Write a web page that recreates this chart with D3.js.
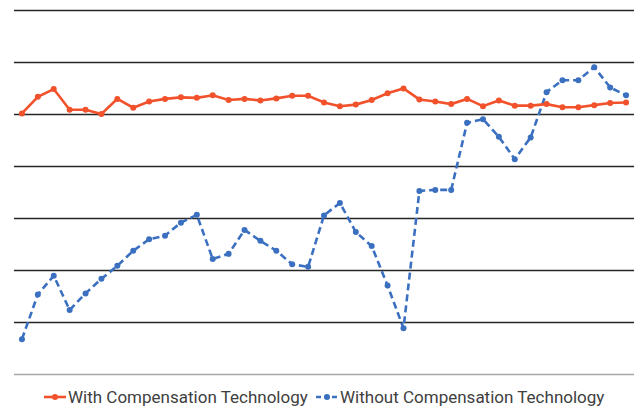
<!DOCTYPE html>
<html>
<head>
<meta charset="utf-8">
<script src="https://cdn.jsdelivr.net/npm/d3@7"></script>
<style>
  body { margin: 0; background: #fff; }
  svg { display: block; font-family: Roboto, "Liberation Sans", sans-serif; }
</style>
</head>
<body>
<div id="chart"></div>
<script>
var width = 640, height = 408;
var margin = {top: 10.5, right: 6, bottom: 33.5, left: 14};

// 39 samples, values (0..70 scale, grid every 10)
var samples = d3.range(1, 40);
var withComp = [50.2, 53.4, 54.9, 50.9, 50.9, 50.1, 53.0, 51.3, 52.5, 53.0,
                53.3, 53.2, 53.7, 52.8, 53.0, 52.7, 53.1, 53.6, 53.6, 52.3,
                51.6, 51.9, 52.8, 54.1, 55.0, 52.9, 52.5, 52.0, 53.0, 51.6,
                52.7, 51.7, 51.7, 52.0, 51.4, 51.4, 51.8, 52.2, 52.3];
var withoutComp = [6.8, 15.4, 19.0, 12.4, 15.6, 18.4, 20.9, 23.8, 26.0, 26.7,
                   29.2, 30.7, 22.2, 23.2, 27.8, 25.7, 23.8, 21.2, 20.7, 30.6,
                   33.0, 27.4, 24.7, 17.1, 8.9, 35.3, 35.5, 35.5, 48.4, 49.1,
                   45.7, 41.4, 45.6, 54.3, 56.6, 56.6, 59.1, 55.2, 53.7];
var yTicks = [10, 20, 30, 40, 50, 60, 70];
var seriesNames = ["With Compensation Technology", "Without Compensation Technology"];

var svg = d3.select("#chart").append("svg")
    .attr("width", width)
    .attr("height", height);

var x = d3.scaleBand()
    .domain(samples)
    .range([margin.left, width - margin.right]);

var y = d3.scaleLinear()
    .domain([0, 70])
    .range([height - margin.bottom, margin.top]);

// gridlines
svg.append("g")
  .selectAll("line")
  .data(yTicks)
  .enter().append("line")
    .attr("x1", margin.left)
    .attr("x2", width - margin.right)
    .attr("y1", function(d) { return y(d); })
    .attr("y2", function(d) { return y(d); })
    .attr("stroke", "#262626")
    .attr("stroke-width", 1.3);

// x axis baseline
svg.append("line")
    .attr("x1", margin.left)
    .attr("x2", width - margin.right)
    .attr("y1", y(0))
    .attr("y2", y(0))
    .attr("stroke", "#a6a6a6")
    .attr("stroke-width", 1.5);

var cx = function(d, i) { return x(samples[i]) + x.bandwidth() / 2; };

var series = [
  {name: seriesNames[0], values: withComp, color: "#f1522c", dash: null},
  {name: seriesNames[1], values: withoutComp, color: "#3b70c0", dash: "7,4"}
];

var line = d3.line()
    .x(cx)
    .y(function(d) { return y(d); });

// draw "without" first so the red line sits on top
series.slice().reverse().forEach(function(s) {
  svg.append("path")
      .datum(s.values)
      .attr("fill", "none")
      .attr("stroke", s.color)
      .attr("stroke-width", 2.6)
      .attr("stroke-dasharray", s.dash)
      .attr("d", line);

  svg.append("g")
    .selectAll("circle")
    .data(s.values)
    .enter().append("circle")
      .attr("cx", cx)
      .attr("cy", function(d) { return y(d); })
      .attr("r", 3)
      .attr("fill", s.color);
});

// legend
var legendY = 397;
var legendX = [44, 316];
var legend = svg.selectAll(".legend")
  .data(series)
  .enter().append("g")
    .attr("class", "legend")
    .attr("transform", function(d, i) { return "translate(" + legendX[i] + "," + legendY + ")"; });

legend.append("line")
    .attr("x1", 0)
    .attr("x2", 22)
    .attr("stroke", function(d) { return d.color; })
    .attr("stroke-width", 2.6)
    .attr("stroke-dasharray", function(d) { return d.dash ? "5,3" : null; });

legend.append("circle")
    .attr("cx", 11)
    .attr("r", 3)
    .attr("fill", function(d) { return d.color; });

legend.append("text")
    .attr("x", 24)
    .attr("dy", "0.35em")
    .style("font-size", "17px")
    .style("fill", "#404040")
    .text(function(d) { return d.name; });
</script>
</body>
</html>
